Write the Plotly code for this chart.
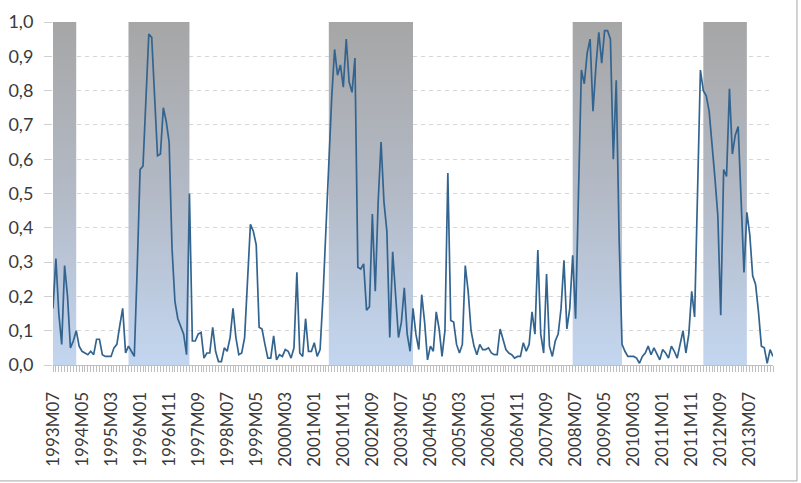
import plotly.graph_objects as go

# ---- data -------------------------------------------------------------
start_year, start_month = 1993, 7

probability = [
    0.165, 0.31, 0.15, 0.06, 0.29, 0.20, 0.05, 0.07, 0.10, 0.055,
    0.04, 0.035, 0.03, 0.04, 0.03, 0.075, 0.075, 0.03, 0.025, 0.025,
    0.025, 0.05, 0.06, 0.115, 0.165, 0.035, 0.055, 0.04, 0.025, 0.28,
    0.57, 0.58, 0.78, 0.965, 0.955, 0.78, 0.61, 0.615, 0.75, 0.71,
    0.65, 0.34, 0.185, 0.135, 0.115, 0.09, 0.03, 0.50, 0.07, 0.07,
    0.09, 0.095, 0.02, 0.035, 0.035, 0.11, 0.04, 0.01, 0.01, 0.05,
    0.04, 0.08, 0.165, 0.08, 0.03, 0.035, 0.08, 0.24, 0.41, 0.39,
    0.35, 0.11, 0.105, 0.06, 0.02, 0.02, 0.085, 0.015, 0.03, 0.025,
    0.045, 0.04, 0.02, 0.05, 0.27, 0.035, 0.025, 0.135, 0.04, 0.04,
    0.065, 0.025, 0.045, 0.20, 0.40, 0.60, 0.78, 0.92, 0.845, 0.875,
    0.81, 0.95, 0.825, 0.795, 0.895, 0.285, 0.28, 0.295, 0.16, 0.17,
    0.44, 0.215, 0.475, 0.65, 0.475, 0.39, 0.08, 0.33, 0.195, 0.08,
    0.125, 0.225, 0.09, 0.04, 0.165, 0.09, 0.045, 0.205, 0.125, 0.015,
    0.055, 0.04, 0.155, 0.105, 0.025, 0.10, 0.56, 0.13, 0.125, 0.06,
    0.035, 0.06, 0.29, 0.215, 0.10, 0.055, 0.03, 0.06, 0.045, 0.045,
    0.05, 0.035, 0.03, 0.03, 0.105, 0.075, 0.045, 0.035, 0.03, 0.02,
    0.025, 0.025, 0.065, 0.04, 0.06, 0.155, 0.09, 0.335, 0.09, 0.035,
    0.265, 0.055, 0.025, 0.07, 0.09, 0.165, 0.305, 0.105, 0.165, 0.32,
    0.135, 0.50, 0.86, 0.82, 0.91, 0.95, 0.74, 0.87, 0.97, 0.88,
    0.975, 0.975, 0.95, 0.60, 0.83, 0.37, 0.06, 0.04, 0.025, 0.025,
    0.025, 0.02, 0.005, 0.025, 0.035, 0.055, 0.03, 0.05, 0.03, 0.015,
    0.045, 0.035, 0.02, 0.055, 0.04, 0.02, 0.06, 0.10, 0.035, 0.09,
    0.215, 0.14, 0.50, 0.86, 0.80, 0.785, 0.74, 0.65, 0.545, 0.435,
    0.145, 0.57, 0.55, 0.805, 0.615, 0.67, 0.695, 0.485, 0.27, 0.445,
    0.38, 0.26, 0.235, 0.155, 0.055, 0.05, 0.005, 0.045, 0.025,
]

# shaded periods (start month, end month)
band_start = ["1993M07", "1995M09", "2001M06", "2008M06", "2012M03"]
band_end = ["1994M03", "1997M06", "2003M11", "2009M11", "2013M06"]

tick_labels = [
    "1993M07", "1994M05", "1995M03", "1996M01", "1996M11", "1997M09",
    "1998M07", "1999M05", "2000M03", "2001M01", "2001M11", "2002M09",
    "2003M07", "2004M05", "2005M03", "2006M01", "2006M11", "2007M09",
    "2008M07", "2009M05", "2010M03", "2011M01", "2011M11", "2012M09",
    "2013M07",
]
y_ticks = [0.0, 0.1, 0.2, 0.3, 0.4, 0.5, 0.6, 0.7, 0.8, 0.9, 1.0]

# ---- helpers ----------------------------------------------------------
def month_index(label):
    y, m = int(label[:4]), int(label[5:])
    return (y - start_year) * 12 + (m - start_month)

x_idx = list(range(len(probability)))
tick_pos = [month_index(t) for t in tick_labels]

fig = go.Figure()

for s, e in zip(band_start, band_end):
    a, b = month_index(s), month_index(e)
    fig.add_trace(go.Scatter(
        x=[a, b, b, a, a], y=[0, 0, 1, 1, 0],
        mode="lines", line=dict(width=0), fill="toself",
        fillgradient=dict(type="vertical", start=0, stop=1,
                          colorscale=[[0, "#c3d6f0"], [0.5, "#b3bac6"], [1, "#a6a6a6"]]),
        hoverinfo="skip", showlegend=False,
    ))

fig.add_trace(go.Scatter(
    x=x_idx, y=probability, mode="lines",
    line=dict(color="#33648f", width=1.7),
    showlegend=False,
))

font_family = "Lato, 'Open Sans', sans-serif"

fig.update_layout(
    width=801, height=483,
    margin=dict(l=53, r=28, t=22, b=118),
    paper_bgcolor="white", plot_bgcolor="white",
    font=dict(family=font_family, size=18, color="#3a3a3a"),
    xaxis=dict(
        range=[0, len(probability) - 1],
        tickmode="array", tickvals=tick_pos, ticktext=tick_labels,
        tickangle=-90, tickfont=dict(size=17),
        ticks="outside", ticklen=6, tickcolor="#bfbfbf",
        minor=dict(dtick=1, tick0=0, ticks="outside", ticklen=6,
                   tickcolor="#bfbfbf", showgrid=False),
        showline=True, linecolor="#bfbfbf", linewidth=1,
        showgrid=False, zeroline=False, ticklabelstandoff=13,
        automargin=False,
    ),
    yaxis=dict(
        range=[0, 1.0],
        tickmode="array", tickvals=y_ticks,
        ticktext=[f"{v:.1f}".replace(".", ",") for v in y_ticks],
        tickfont=dict(size=18),
        ticks="outside", ticklen=8, tickcolor="#d0d0d0",
        showgrid=True, gridcolor="#d6d6d6", griddash="4px,4px", gridwidth=1,
        showline=False, zeroline=False, ticklabelstandoff=7,
        automargin=False,
    ),
    shapes=[
        dict(type="line", xref="paper", yref="paper",
             x0=1.0333, x1=1.0333, y0=-0.338, y1=1.07,
             line=dict(color="#a6a6a6", width=1)),
        dict(type="line", xref="paper", yref="paper",
             x0=-0.08, x1=1.0333, y0=-0.338, y1=-0.338,
             line=dict(color="#a6a6a6", width=1)),
    ],
)

fig.write_html("out.html")
